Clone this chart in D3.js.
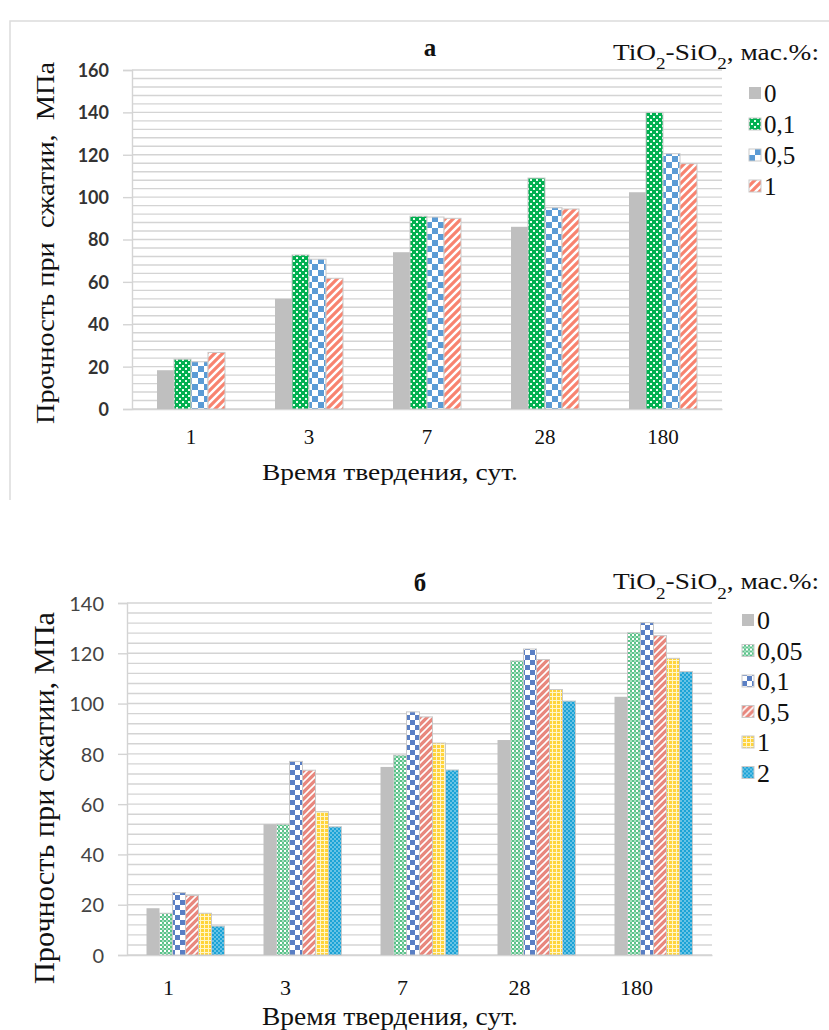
<!DOCTYPE html>
<html lang="ru">
<head>
<meta charset="UTF-8">
<title>Прочность при сжатии</title>
<script src="https://cdn.jsdelivr.net/npm/d3@7"></script>
<style>
    body { margin: 0; background: #fff; }
    .grid line { stroke: #d4d4d4; stroke-width: 1.4; }
</style>
</head>
<body>
<svg id="chart" width="829" height="1030"></svg>
<script>
var SERIF = "'Liberation Serif', 'Times New Roman', serif";
var SANS = "Lato, 'Open Sans', sans-serif";

// days of hardening (categories)
var days = ["1", "3", "7", "28", "180"];

// chart a
var seriesA = ["0", "0,1", "0,5", "1"];
var valuesA = [
    [18.3, 52, 74, 86, 102.3],
    [23.5, 72.7, 91, 109, 140],
    [22.3, 70.7, 90.6, 95, 120.5],
    [26.7, 61.7, 90, 94.4, 115.8]
];
var ticksA = [0, 20, 40, 60, 80, 100, 120, 140, 160];

// chart б
var seriesB = ["0", "0,05", "0,1", "0,5", "1", "2"];
var valuesB = [
    [18.6, 52, 74.8, 85.5, 102.7],
    [16.6, 52, 79.5, 117, 128.2],
    [24.8, 77, 96.7, 121.7, 132.2],
    [23.7, 73.5, 94.7, 117.5, 127],
    [16.6, 57, 84.3, 105.6, 118],
    [11.5, 51, 73.6, 101, 112.7]
];
var ticksB = [0, 20, 40, 60, 80, 100, 120, 140];

var svg = d3.select("#chart");
var defs = svg.append("defs");

// ---- fill patterns ----
function pattern(id, size, bg, draw) {
    var p = defs.append("pattern")
        .attr("id", id)
        .attr("patternUnits", "userSpaceOnUse")
        .attr("width", size).attr("height", size);
    p.append("rect").attr("width", size).attr("height", size).attr("fill", bg);
    draw(p);
}

// top: green with white small crosses
pattern("pA1", 6, "#00b050", function (p) {
    p.append("rect").attr("x", 2).attr("y", 0).attr("width", 2).attr("height", 1).attr("fill", "#e8fff0");
    p.append("rect").attr("x", 0).attr("y", 2).attr("width", 1).attr("height", 2).attr("fill", "#e8fff0");
    p.append("rect").attr("x", 5).attr("y", 2).attr("width", 1).attr("height", 2).attr("fill", "#e8fff0");
    p.append("rect").attr("x", 2).attr("y", 5).attr("width", 2).attr("height", 1).attr("fill", "#e8fff0");
});
// top: blue large checker
pattern("pA2", 12, "#fff", function (p) {
    p.append("rect").attr("width", 6).attr("height", 6).attr("fill", "#5b9bd5");
    p.append("rect").attr("x", 6).attr("y", 6).attr("width", 6).attr("height", 6).attr("fill", "#5b9bd5");
});
// top: salmon wide upward diagonal
pattern("pA3", 8, "#fff", function (p) {
    p.append("path").attr("d", "M-2,10 L10,-2 M-2,2 L2,-2 M6,10 L10,6")
        .attr("stroke", "#f8836f").attr("stroke-width", 3.2);
});

// bottom: light green trellis
pattern("pB1", 4, "#fff", function (p) {
    p.append("rect").attr("width", 2).attr("height", 2).attr("fill", "#5cc28a");
    p.append("rect").attr("x", 2).attr("y", 2).attr("width", 2).attr("height", 2).attr("fill", "#5cc28a");
    p.append("rect").attr("x", 2).attr("y", 0).attr("width", 2).attr("height", 2).attr("fill", "#a8e0c2");
});
// bottom: blue checker
pattern("pB2", 10, "#fff", function (p) {
    p.append("rect").attr("width", 5).attr("height", 5).attr("fill", "#5a7fc4");
    p.append("rect").attr("x", 5).attr("y", 5).attr("width", 5).attr("height", 5).attr("fill", "#5a7fc4");
});
// bottom: salmon with white diagonals
pattern("pB3", 7, "#e8877d", function (p) {
    p.append("path").attr("d", "M-2,9 L9,-2 M-2,2 L2,-2 M5,9 L9,5")
        .attr("stroke", "#fff").attr("stroke-width", 1.6);
});
// bottom: yellow grid
pattern("pB4", 4, "#ffd43b", function (p) {
    p.append("rect").attr("x", 0).attr("y", 0).attr("width", 4).attr("height", 1).attr("fill", "#fff6cc");
    p.append("rect").attr("x", 0).attr("y", 0).attr("width", 1).attr("height", 4).attr("fill", "#fff6cc");
});
// bottom: cyan dots
pattern("pB5", 4, "#1ca3d6", function (p) {
    p.append("circle").attr("cx", 1).attr("cy", 1).attr("r", 0.8).attr("fill", "#c9ecf8");
    p.append("circle").attr("cx", 3).attr("cy", 3).attr("r", 0.8).attr("fill", "#c9ecf8");
});

var fillsA = ["#bfbfbf", "url(#pA1)", "url(#pA2)", "url(#pA3)"];
var fillsB = ["#bfbfbf", "url(#pB1)", "url(#pB2)", "url(#pB3)", "url(#pB4)", "url(#pB5)"];

// panel frame for chart a
svg.append("path")
    .attr("d", "M10,500 L10,21 L829,21")
    .attr("fill", "none").attr("stroke", "#dcdcdc").attr("stroke-width", 1.5);

function serifText(sel, size) {
    return sel.style("font-family", SERIF).style("font-size", size + "px").attr("fill", "#111");
}

function drawChart(cfg) {
    var g = svg.append("g");
    var x = d3.scaleBand().domain(days).range([cfg.left, cfg.right]);
    var x1 = d3.scaleBand().domain(cfg.series)
        .range([(x.bandwidth() - cfg.group) / 2, (x.bandwidth() + cfg.group) / 2]);
    var y = d3.scaleLinear().domain([0, cfg.max]).range([cfg.bottom, cfg.top]);

    // minor gridlines every 4
    g.append("g").attr("class", "grid")
        .selectAll("line").data(d3.range(0, cfg.max + 1, 4)).enter().append("line")
        .attr("x1", cfg.left).attr("x2", cfg.right)
        .attr("y1", function (d) { return y(d); }).attr("y2", function (d) { return y(d); });

    // y axis
    var ya = g.append("g")
        .attr("transform", "translate(" + cfg.left + ",0)")
        .call(d3.axisLeft(y).tickValues(cfg.ticks).tickSize(9).tickPadding(cfg.tickPad));
    ya.select(".domain").attr("stroke", "#d4d4d4").attr("stroke-width", 1.4);
    ya.selectAll(".tick line").attr("stroke", "#d4d4d4").attr("stroke-width", 1.4);
    ya.selectAll(".tick text")
        .style("font-family", SANS)
        .style("font-size", cfg.yFont + "px").style("font-weight", cfg.yWeight)
        .attr("fill", cfg.yColor)
        .attr("dy", "0.36em");

    // x axis
    var xa = g.append("g")
        .attr("transform", "translate(0," + cfg.bottom + ")")
        .call(d3.axisBottom(x).tickSize(0).tickPadding(cfg.xPad));
    xa.select(".domain").attr("stroke", "#d4d4d4").attr("stroke-width", 1.4);
    serifText(xa.selectAll(".tick text"), cfg.xFont).attr("dx", cfg.xShift);

    // bars
    cfg.series.forEach(function (s, i) {
        g.append("g").selectAll("rect")
            .data(cfg.values[i]).enter().append("rect")
            .attr("x", function (d, j) { return x(days[j]) + x1(s); })
            .attr("y", function (d) { return y(d); })
            .attr("width", x1.bandwidth())
            .attr("height", function (d) { return y(0) - y(d); })
            .attr("fill", cfg.fills[i])
            .attr("stroke", i === 0 ? "none" : "#c9c9c9")
            .attr("stroke-width", 1);
    });

    // panel title
    serifText(g.append("text"), 25)
        .attr("x", cfg.titleX).attr("y", cfg.titleY)
        .attr("text-anchor", "middle")
        .style("font-weight", "bold")
        .text(cfg.title);

    // legend title
    var lt = serifText(g.append("text"), cfg.legFont)
        .attr("x", 819).attr("y", cfg.legTitleY)
        .attr("text-anchor", "end")
        .attr("textLength", 206).attr("lengthAdjust", "spacingAndGlyphs");
    lt.append("tspan").text("TiO");
    lt.append("tspan").attr("baseline-shift", "sub").style("font-size", "0.7em").text("2");
    lt.append("tspan").text("-SiO");
    lt.append("tspan").attr("baseline-shift", "sub").style("font-size", "0.7em").text("2");
    lt.append("tspan").text(", мас.%:");

    // legend items
    var leg = g.append("g").selectAll("g").data(cfg.series).enter().append("g")
        .attr("transform", function (d, i) { return "translate(" + cfg.legX + "," + (cfg.legY + i * cfg.legStep) + ")"; });
    leg.append("rect")
        .attr("x", 0).attr("y", -6).attr("width", 12).attr("height", 12)
        .attr("fill", function (d, i) { return cfg.fills[i]; })
        .attr("stroke", function (d, i) { return i === 0 ? "none" : "#c9c9c9"; });
    serifText(leg.append("text"), cfg.legFont + 2)
        .attr("x", 15).attr("y", 0).attr("dy", "0.35em")
        .text(function (d) { return d; });

    // axis titles
    serifText(g.append("text"), cfg.yTitleFont)
        .attr("transform", "translate(" + cfg.yTitleX + "," + cfg.yTitleY + ") rotate(-90)")
        .attr("text-anchor", "middle")
        .attr("textLength", cfg.yTitleLen).attr("lengthAdjust", "spacingAndGlyphs")
        .style("white-space", "pre")
        .text(cfg.yTitle);
    serifText(g.append("text"), cfg.xTitleFont)
        .attr("x", 390).attr("y", cfg.xTitleY)
        .attr("text-anchor", "middle")
        .attr("textLength", 256).attr("lengthAdjust", "spacingAndGlyphs")
        .text("Время твердения, сут.");
}

drawChart({
    series: seriesA, values: valuesA, fills: fillsA, ticks: ticksA, max: 160,
    left: 132, right: 722, top: 70, bottom: 409, group: 68,
    tickPad: 14, yFont: 18, yWeight: "bold", yColor: "#333", xPad: 20, xFont: 21, xShift: 0,
    title: "а", titleX: 430, titleY: 56,
    legTitleY: 60, legFont: 23, legX: 749, legY: 93, legStep: 31,
    yTitle: "Прочность при  сжатии,  МПа", yTitleX: 54, yTitleY: 243, yTitleFont: 26, yTitleLen: 362,
    xTitleY: 480, xTitleFont: 24
});

drawChart({
    series: seriesB, values: valuesB, fills: fillsB, ticks: ticksB, max: 140,
    left: 127, right: 712, top: 603, bottom: 955, group: 78,
    tickPad: 14, yFont: 20, yWeight: "normal", yColor: "#444", xPad: 24, xFont: 22, xShift: -17,
    title: "б", titleX: 420, titleY: 591,
    legTitleY: 589, legFont: 24, legX: 742, legY: 620, legStep: 30.5,
    yTitle: "Прочность при сжатии, МПа", yTitleX: 54, yTitleY: 798, yTitleFont: 29, yTitleLen: 372,
    xTitleY: 1025, xTitleFont: 25
});
</script>
</body>
</html>
